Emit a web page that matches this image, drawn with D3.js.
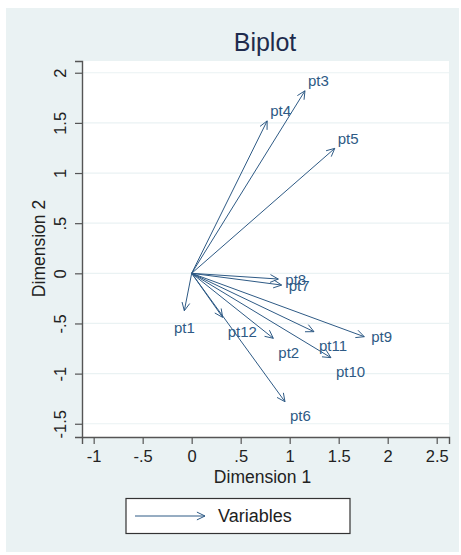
<!DOCTYPE html>
<html>
<head>
<meta charset="utf-8">
<script src="https://cdn.jsdelivr.net/npm/d3@7"></script>
<style>
  html, body { margin: 0; padding: 0; background: #ffffff; }
  svg { display: block; font-family: "Liberation Sans", Arial, sans-serif; }
</style>
</head>
<body>
<svg id="chart" width="461" height="555"></svg>
<script>
// Variable loadings on the first two dimensions
const variables = ["pt1", "pt2", "pt3", "pt4", "pt5", "pt6", "pt7", "pt8", "pt9", "pt10", "pt11", "pt12"];
const dim1 = [-0.075, 0.833, 1.156, 0.77, 1.46, 0.952, 0.918, 0.884, 1.761, 1.421, 1.248, 0.316];
const dim2 = [-0.373, -0.648, 1.82, 1.52, 1.246, -1.28, -0.117, -0.057, -0.632, -0.841, -0.582, -0.439];

const xTicks = [-1, -0.5, 0, 0.5, 1, 1.5, 2, 2.5];
const yTicks = [-1.5, -1, -0.5, 0, 0.5, 1, 1.5, 2];

// Stata-style tick labels: ".5" rather than "0.5"
const fmt = v => (v === 0 ? "0" : String(v).replace(/^(-?)0\./, "$1."));

const svg = d3.select("#chart");

const arrowColor = "#2e5a85";
const textColor = "#222222";

// outer graph region
svg.append("rect").attr("x", 6).attr("y", 8).attr("width", 453).attr("height", 544)
  .attr("fill", "#eaf2f3");

const plot = { left: 82, right: 449, top: 61, bottom: 437 };

const x = d3.scaleLinear().domain([-1.119, 2.6255]).range([plot.left, plot.right]);
const y = d3.scaleLinear().domain([-1.632, 2.117]).range([plot.bottom, plot.top]);

// plot region
svg.append("rect").attr("x", plot.left).attr("y", plot.top)
  .attr("width", plot.right - plot.left).attr("height", plot.bottom - plot.top)
  .attr("fill", "#ffffff");

// horizontal grid lines
svg.append("g").selectAll("line").data(yTicks).join("line")
  .attr("x1", plot.left).attr("x2", plot.right)
  .attr("y1", d => y(d)).attr("y2", d => y(d))
  .attr("stroke", "#eaf2f3").attr("stroke-width", 1.2);

// title
svg.append("text").attr("x", 265).attr("y", 42).attr("text-anchor", "middle")
  .attr("dominant-baseline", "central").attr("font-size", 25).attr("fill", "#1e2b4d")
  .text("Biplot");

// x axis
const xAxis = d3.axisBottom(x).tickValues(xTicks).tickFormat(fmt).tickSizeOuter(0).tickSize(7).tickPadding(6);
const gx = svg.append("g").attr("transform", `translate(0,${plot.bottom})`).call(xAxis);
gx.select(".domain").attr("stroke", "#555").attr("stroke-width", 1.4);
gx.selectAll(".tick line").attr("stroke", "#555").attr("stroke-width", 1.2);
gx.selectAll(".tick text").attr("font-size", 16.5).attr("fill", textColor)
  .attr("font-family", "Liberation Sans, Arial, sans-serif");

// y axis (vertical tick labels)
const yAxis = d3.axisLeft(y).tickValues(yTicks).tickFormat(fmt).tickSizeOuter(0).tickSize(7).tickPadding(6);
const gy = svg.append("g").attr("transform", `translate(${plot.left},0)`).call(yAxis);
gy.select(".domain").attr("stroke", "#555").attr("stroke-width", 1.4);
gy.selectAll(".tick line").attr("stroke", "#555").attr("stroke-width", 1.2);
gy.selectAll(".tick text")
  .attr("font-size", 16.5).attr("fill", textColor)
  .attr("font-family", "Liberation Sans, Arial, sans-serif")
  .attr("x", null).attr("dy", null)
  .attr("text-anchor", "middle").attr("dominant-baseline", "central")
  .attr("transform", "translate(-22,0) rotate(-90)");

// axis titles
svg.append("text").attr("x", 262.5).attr("y", 477).attr("text-anchor", "middle")
  .attr("dominant-baseline", "central").attr("font-size", 17.5).attr("fill", textColor)
  .text("Dimension 1");
svg.append("text").attr("transform", "translate(39,248.5) rotate(-90)")
  .attr("text-anchor", "middle").attr("dominant-baseline", "central")
  .attr("font-size", 17.5).attr("fill", textColor).text("Dimension 2");

// arrows from the origin to each variable's loading
const data = variables.map((name, i) => ({ name, d1: dim1[i], d2: dim2[i] }));
const x0 = x(0), y0 = y(0);

function arrowHead(tx, ty, ang) {
  const len = 9, spread = 0.45;
  const a1 = ang + Math.PI - spread, a2 = ang + Math.PI + spread;
  return `M${tx + len * Math.cos(a1)},${ty + len * Math.sin(a1)}L${tx},${ty}L${tx + len * Math.cos(a2)},${ty + len * Math.sin(a2)}`;
}

const ga = svg.append("g");
data.forEach(d => {
  const tx = x(d.d1), ty = y(d.d2);
  const ang = Math.atan2(ty - y0, tx - x0);
  ga.append("line").attr("x1", x0).attr("y1", y0).attr("x2", tx).attr("y2", ty)
    .attr("stroke", arrowColor).attr("stroke-width", 1);
  ga.append("path").attr("d", arrowHead(tx, ty, ang))
    .attr("fill", "none").attr("stroke", arrowColor).attr("stroke-width", 1);
});

// labels placed by the compass sector of each arrow
function labelPlacement(d) {
  const deg = Math.atan2(d.d2, d.d1) * 180 / Math.PI;
  if (deg >= 67.5 && deg < 112.5) return { dx: 0, dy: -14, anchor: "middle" };
  if (deg >= 22.5 && deg < 67.5) return { dx: 3, dy: -10, anchor: "start" };
  if (deg >= -22.5 && deg < 22.5) return { dx: 7, dy: 0, anchor: "start" };
  if (deg >= -67.5 && deg < -22.5) return { dx: 5, dy: 14, anchor: "start" };
  if (deg >= -112.5 && deg < -67.5) return { dx: 0, dy: 17, anchor: "middle" };
  return { dx: -7, dy: 0, anchor: "end" };
}

svg.append("g").selectAll("text").data(data).join("text")
  .each(function (d) {
    const p = labelPlacement(d);
    d3.select(this).attr("x", x(d.d1) + p.dx).attr("y", y(d.d2) + p.dy)
      .attr("text-anchor", p.anchor);
  })
  .attr("dominant-baseline", "central").attr("font-size", 15)
  .attr("fill", "#2e5a85").text(d => d.name);

// legend
const lg = svg.append("g");
lg.append("rect").attr("x", 126).attr("y", 498.5).attr("width", 224).attr("height", 35)
  .attr("fill", "#ffffff").attr("stroke", "#333").attr("stroke-width", 1.2);
lg.append("line").attr("x1", 135).attr("x2", 205).attr("y1", 516).attr("y2", 516)
  .attr("stroke", arrowColor).attr("stroke-width", 1);
lg.append("path").attr("d", arrowHead(205, 516, 0))
  .attr("fill", "none").attr("stroke", arrowColor).attr("stroke-width", 1);
lg.append("text").attr("x", 218).attr("y", 516).attr("dominant-baseline", "central")
  .attr("font-size", 18).attr("fill", textColor).text("Variables");
</script>
</body>
</html>
